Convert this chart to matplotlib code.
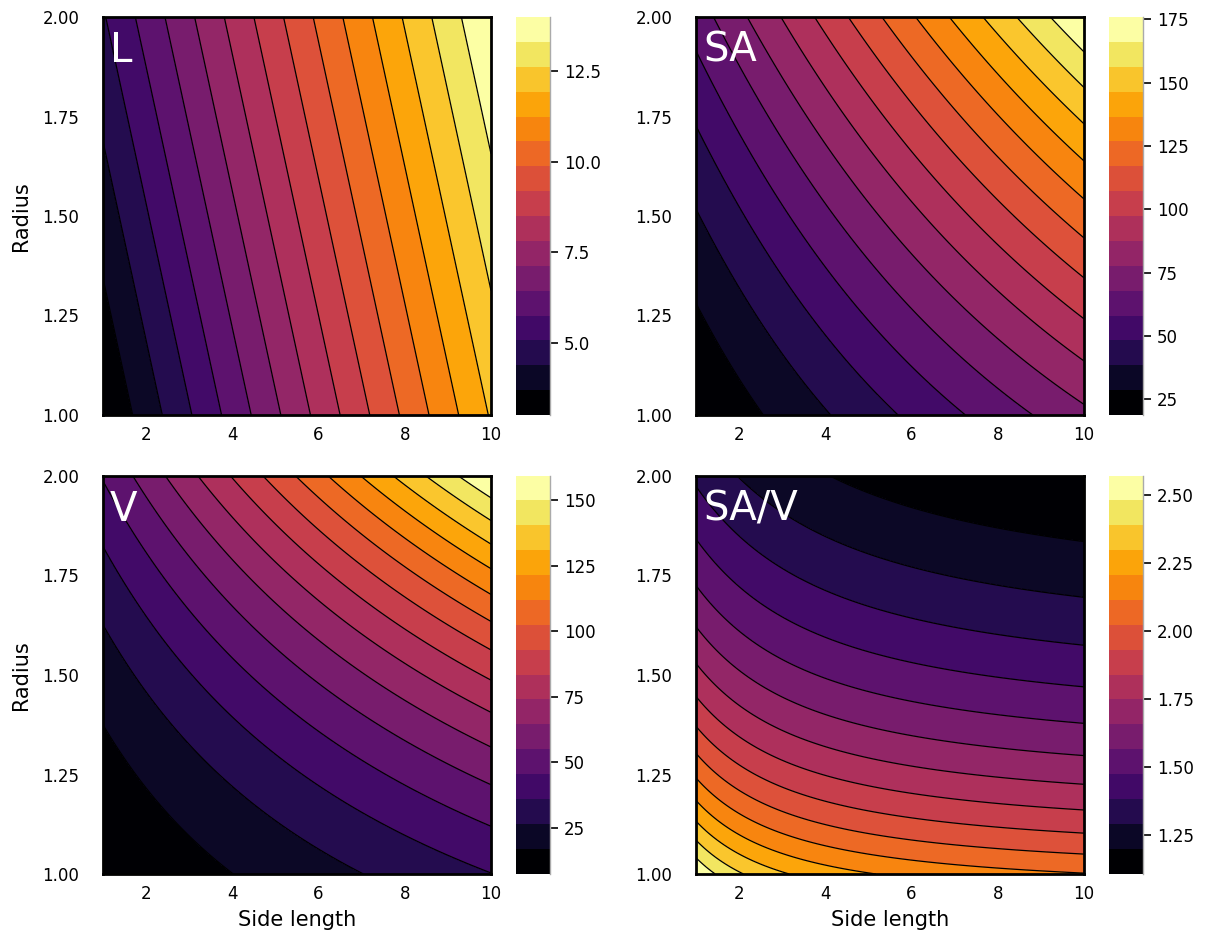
import numpy as np
import matplotlib
matplotlib.use("Agg")
import matplotlib.pyplot as plt
from matplotlib.colors import ListedColormap, BoundaryNorm

# Axes ranges
side_length = np.linspace(1.0, 10.0, 301)
radius = np.linspace(1.0, 2.0, 301)
S, R = np.meshgrid(side_length, radius)

# Capsule geometry (cylinder of length s with hemispherical caps of radius r)
L = S + 2 * R
SA = 2 * np.pi * R * S + 4 * np.pi * R**2
V = np.pi * R**2 * S + 4.0 / 3.0 * np.pi * R**3
SAV = SA / V

panels = [("L", L), ("SA", SA), ("V", V), ("SA/V", SAV)]
x_ticks = [2, 4, 6, 8, 10]
y_ticks = [1.00, 1.25, 1.50, 1.75, 2.00]
cbar_ticks = {
    "L": [5.0, 7.5, 10.0, 12.5],
    "SA": [25, 50, 75, 100, 125, 150, 175],
    "V": [25, 50, 75, 100, 125, 150],
    "SA/V": [1.25, 1.50, 1.75, 2.00, 2.25, 2.50],
}
cbar_fmt = {"L": "{:.1f}", "SA": "{:.0f}", "V": "{:.0f}", "SA/V": "{:.2f}"}

nbands = 16
cmap = ListedColormap(plt.get_cmap("inferno")(np.linspace(0, 1, nbands)))

W, H = 1207, 938
fig = plt.figure(figsize=(W / 100, H / 100), dpi=100)

def rect(x0, y0, x1, y1):
    return [x0 / W, 1 - y1 / H, (x1 - x0) / W, (y1 - y0) / H]

ax_pos = [(103, 17, 491, 415), (696, 17, 1084, 415),
          (103, 476, 491, 874), (696, 476, 1084, 874)]
cb_pos = [(516, 17, 550, 415), (1109, 17, 1143, 415),
          (516, 476, 550, 874), (1109, 476, 1143, 874)]

for i, (name, Z) in enumerate(panels):
    ax = fig.add_axes(rect(*ax_pos[i]))
    levels = np.linspace(Z.min(), Z.max(), nbands + 1)
    norm = BoundaryNorm(levels, cmap.N)
    ax.contourf(S, R, Z, levels=levels, cmap=cmap, norm=norm)
    ax.contour(S, R, Z, levels=levels[1:-1], colors="black", linewidths=0.9)
    ax.set_xlim(1, 10)
    ax.set_ylim(1, 2)
    ax.set_xticks(x_ticks)
    ax.set_yticks(y_ticks)
    ax.set_xticklabels([str(t) for t in x_ticks])
    ax.set_yticklabels([f"{t:.2f}" for t in y_ticks])
    ax.tick_params(length=0, labelsize=12)
    ax.tick_params(axis="x", pad=8)
    ax.tick_params(axis="y", pad=17)
    for sp in ax.spines.values():
        sp.set_linewidth(2)
    ax.text(0.018, 0.965, name, transform=ax.transAxes, color="white",
            fontsize=29, va="top", ha="left")
    if i % 2 == 0:
        ax.set_ylabel("Radius", fontsize=15, labelpad=8)
    if i >= 2:
        ax.set_xlabel("Side length", fontsize=15, labelpad=5)

    cax = fig.add_axes(rect(*cb_pos[i]))
    cax.imshow(np.arange(nbands).reshape(-1, 1), cmap=cmap, aspect="auto",
               origin="lower", extent=[0, 1, levels[0], levels[-1]],
               interpolation="nearest")
    cax.set_xlim(0, 1)
    cax.set_ylim(levels[0], levels[-1])
    cax.set_xticks([])
    cax.yaxis.tick_right()
    ticks = cbar_ticks[name]
    cax.set_yticks(ticks)
    cax.set_yticklabels([cbar_fmt[name].format(t) for t in ticks])
    cax.tick_params(axis="y", length=6, width=1.2, labelsize=12, pad=4)
    for k in ("top", "left", "bottom"):
        cax.spines[k].set_visible(False)
    cax.spines["right"].set_color("#aaaaaa")
    cax.spines["right"].set_linewidth(1)

fig.savefig("out.png", dpi=100)
